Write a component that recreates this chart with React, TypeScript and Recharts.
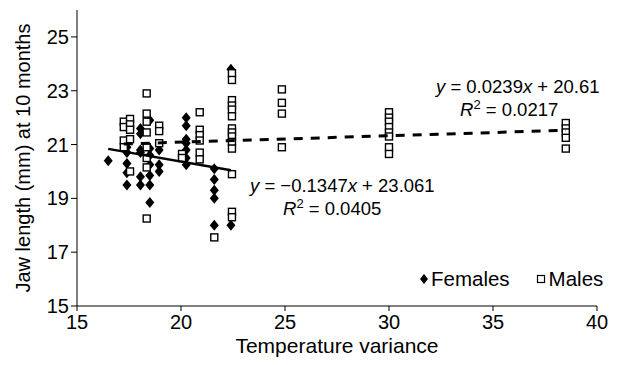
import { ScatterChart, Scatter, XAxis, YAxis, Label } from 'recharts'

const xTicks = [15, 20, 25, 30, 35, 40]
const yTicks = [15, 17, 19, 21, 23, 25]

// temperature variance / jaw length (mm)
const femaleTemp = [
  16.5,
  17.4, 17.4, 17.4, 17.4, 17.4,
  18.05, 18.05, 18.05, 18.05, 18.05, 18.05,
  18.5, 18.5, 18.5, 18.5, 18.5, 18.5, 18.5,
  18.95, 18.95, 18.95,
  20.25, 20.25, 20.25, 20.25, 20.25, 20.25, 20.25,
  21.6, 21.6, 21.6, 21.6, 21.6,
  22.4, 22.4,
]
const femaleJaw = [
  20.4,
  20.9, 20.7, 20.3, 19.95, 19.5,
  21.6, 21.4, 20.8, 20.7, 19.8, 19.5,
  21.9, 20.85, 20.6, 20.25, 19.85, 19.5, 18.85,
  20.8, 20.25, 20.0,
  22.0, 21.7, 21.2, 21.05, 20.8, 20.5, 20.25,
  20.1, 19.7, 19.3, 19.0, 18.0,
  23.8, 18.0,
]
const maleTemp = [
  17.25, 17.25, 17.25, 17.25,
  17.55, 17.55, 17.55, 17.55, 17.55,
  18.35, 18.35, 18.35, 18.35, 18.35, 18.35, 18.35, 18.35,
  18.95, 18.95, 18.95,
  20.05, 20.05,
  20.9, 20.9, 20.9, 20.9, 20.9, 20.9,
  21.6,
  22.45, 22.45, 22.45, 22.45, 22.45, 22.45, 22.45, 22.45, 22.45, 22.45, 22.45, 22.45, 22.45, 22.45,
  24.85, 24.85, 24.85, 24.85,
  30.0, 30.0, 30.0, 30.0, 30.0, 30.0, 30.0, 30.0,
  38.5, 38.5, 38.5, 38.5, 38.5,
]
const maleJaw = [
  21.85, 21.65, 21.15, 20.9,
  21.95, 21.75, 21.55, 21.2, 20.0,
  22.9, 22.15, 21.85, 21.45, 20.9, 20.5, 20.15, 18.25,
  21.7, 21.5, 21.05,
  20.65, 20.5,
  22.2, 21.55, 21.35, 21.15, 20.7, 20.45,
  17.55,
  23.65, 23.4, 22.65, 22.45, 22.3, 22.05, 21.6, 21.45, 21.3, 21.1, 20.85, 19.9, 18.5, 18.3,
  23.05, 22.55, 22.15, 20.9,
  22.2, 22.0, 21.85, 21.65, 21.45, 21.3, 20.9, 20.65,
  21.8, 21.6, 21.45, 21.25, 20.85,
]

// trendline coefficients as printed on the chart
const femaleSlope = -0.1347
const femaleIntercept = 23.061
const maleSlope = 0.0239
const maleIntercept = 20.61

const females = femaleTemp.map((x, i) => ({ x, y: femaleJaw[i] }))
const males = maleTemp.map((x, i) => ({ x, y: maleJaw[i] }))

const fitLine = (xs: number[], slope: number, intercept: number) => {
  const lo = Math.min(...xs)
  const hi = Math.max(...xs)
  return [lo, hi].map((x) => ({ x, y: slope * x + intercept }))
}
const femaleTrend = fitLine(femaleTemp, femaleSlope, femaleIntercept)
const maleTrend = fitLine(maleTemp, maleSlope, maleIntercept)

const FONT = '"Liberation Sans", Arial, sans-serif'

const Diamond = (props: any) => {
  const { cx, cy } = props
  return (
    <path
      d={`M${cx},${cy - 5.5}L${cx + 4.5},${cy}L${cx},${cy + 5.5}L${cx - 4.5},${cy}Z`}
      fill="#000"
    />
  )
}

const Square = (props: any) => {
  const { cx, cy } = props
  return (
    <rect x={cx - 3.5} y={cy - 3.5} width={7} height={7} fill="#fff" stroke="#000" strokeWidth={1.4} />
  )
}

const NoDot = () => <g />

const eqStyle: React.CSSProperties = {
  position: 'absolute',
  fontFamily: FONT,
  fontSize: 18.5,
  lineHeight: '18px',
  whiteSpace: 'nowrap',
  color: '#000',
}

const supStyle: React.CSSProperties = { fontSize: 13, lineHeight: 0, verticalAlign: 7 }

export default function App() {
  return (
    <div style={{ position: 'absolute', left: 0, top: 0, width: 620, height: 365, background: '#fff' }}>
      <ScatterChart
        width={620}
        height={365}
        margin={{ top: 10, right: 23, bottom: 19, left: 17 }}
        style={{ fontFamily: FONT }}
      >
        <XAxis
          type="number"
          dataKey="x"
          domain={[15, 40]}
          ticks={xTicks}
          axisLine={{ stroke: '#000' }}
          tickLine={{ stroke: '#000' }}
          tickSize={5}
          tickMargin={4}
          tick={{ fill: '#000', fontSize: 20 }}
          height={40}
        >
          <Label
            content={(p: any) => (
              <text
                x={p.viewBox.x + p.viewBox.width / 2}
                y={345}
                textAnchor="middle"
                dominantBaseline="central"
                fill="#000"
                fontSize={21}
              >
                Temperature variance
              </text>
            )}
          />
        </XAxis>
        <YAxis
          type="number"
          dataKey="y"
          domain={[15, 26]}
          ticks={yTicks}
          axisLine={{ stroke: '#000' }}
          tickLine={{ stroke: '#000' }}
          tickSize={6}
          tickMargin={2}
          tick={{ fill: '#000', fontSize: 20 }}
          width={60}
        >
          <Label
            content={() => (
              <text
                transform="translate(23,158) rotate(-90)"
                textAnchor="middle"
                dominantBaseline="central"
                fill="#000"
                fontSize={20}
              >
                Jaw length (mm) at 10 months
              </text>
            )}
          />
        </YAxis>
        <Scatter name="Females" data={females} shape={Diamond} isAnimationActive={false} />
        <Scatter name="Males" data={males} shape={Square} isAnimationActive={false} />
        <Scatter
          data={femaleTrend}
          shape={NoDot}
          line={{ stroke: '#000', strokeWidth: 2.5 }}
          legendType="none"
          isAnimationActive={false}
        />
        <Scatter
          data={maleTrend}
          shape={NoDot}
          line={{ stroke: '#000', strokeWidth: 3, strokeDasharray: '9 8' }}
          legendType="none"
          isAnimationActive={false}
        />
      </ScatterChart>
      <div style={{ ...eqStyle, left: 436, top: 78 }}>
        <i>y</i> = 0.0239<i>x</i> + 20.61
      </div>
      <div style={{ ...eqStyle, left: 460, top: 101 }}>
        <i>R</i><sup style={supStyle}>2</sup> = 0.0217
      </div>
      <div style={{ ...eqStyle, left: 250, top: 177 }}>
        <i>y</i> = −0.1347<i>x</i> + 23.061
      </div>
      <div style={{ ...eqStyle, left: 283, top: 200 }}>
        <i>R</i><sup style={supStyle}>2</sup> = 0.0405
      </div>
      <div
        style={{
          position: 'absolute',
          left: 419,
          top: 267,
          display: 'flex',
          alignItems: 'center',
          fontFamily: FONT,
          fontSize: 20.5,
          color: '#000',
          lineHeight: '24px',
        }}
      >
        <svg width={10} height={12} style={{ marginRight: 2 }}>
          <path d="M5,1L9,6L5,11L1,6Z" fill="#000" />
        </svg>
        <span>Females</span>
        <svg width={10} height={10} style={{ marginLeft: 26, marginRight: 3 }}>
          <rect x={1.5} y={1.5} width={7} height={7} fill="#fff" stroke="#000" strokeWidth={1.2} />
        </svg>
        <span>Males</span>
      </div>
    </div>
  )
}
